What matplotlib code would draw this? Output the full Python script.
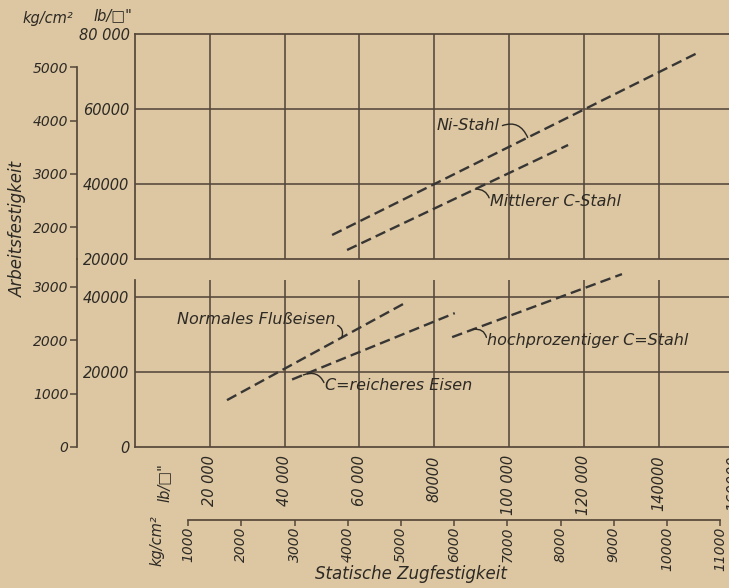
import matplotlib
matplotlib.use("Agg")
import matplotlib.pyplot as plt
import numpy as np

# Fatigue strength (Arbeitsfestigkeit) against static tensile strength,
# both in lb per square inch; kg/cm² scales are derived by conversion.
ni_x = [52700, 150300]
ni_y = [26400, 74900]
mittel_x = [56700, 115800]
mittel_y = [22400, 50400]
fluss_x = [24600, 72200]
fluss_y = [12500, 38400]
creich_x = [42000, 85500]
creich_y = [18000, 35700]
hoch_x = [84800, 130200]
hoch_y = [29300, 46100]

lb_xticks = [20000, 40000, 60000, 80000, 100000, 120000, 140000, 160000]
lb_xlabels = ["20 000", "40 000", "60 000", "80000", "100 000", "120 000", "140000", "160000"]
kg_xticks = [1000, 2000, 3000, 4000, 5000, 6000, 7000, 8000, 9000, 10000, 11000]
upper_lb_ticks = [20000, 40000, 60000, 80000]
upper_lb_labels = ["20000", "40000", "60000", "80 000"]
lower_lb_ticks = [0, 20000, 40000]
lower_lb_labels = ["0", "20000", "40000"]
upper_kg_ticks = [2000, 3000, 4000, 5000]
lower_kg_ticks = [0, 1000, 2000, 3000]

KG_TO_LB = 14.223

BG = "#dcc7a2"
INK = "#2d2924"
GRID = "#54463a"
LINE = "#383634"

plt.rcParams["font.family"] = ["DejaVu Sans"]
plt.rcParams["font.style"] = "italic"
plt.rcParams["text.color"] = INK
plt.rcParams["xtick.color"] = INK
plt.rcParams["ytick.color"] = INK
plt.rcParams["axes.edgecolor"] = GRID

W, H = 729, 588
fig = plt.figure(figsize=(W / 100, H / 100), dpi=100, facecolor=BG)


def fx(px):
    return px / W


def fy(py):
    return 1 - py / H


LEFT, RIGHT = 135, 745
XPX = 74.8   # pixels per 20000 lb horizontally
YPX = 75.0   # pixels per 20000 lb vertically
xmax = (RIGHT - LEFT) / XPX * 20000
lo_top = (447 - 259) / YPX * 20000

ax_up = fig.add_axes([fx(LEFT), fy(259), (RIGHT - LEFT) / W, (259 - 34) / H])
ax_lo = fig.add_axes([fx(LEFT), fy(447), (RIGHT - LEFT) / W, (447 - 259) / H])
for ax in (ax_up, ax_lo):
    ax.set_facecolor("none")
    ax.set_xlim(0, xmax)
    for s in ax.spines.values():
        s.set_linewidth(1.25)
        s.set_color(GRID)
ax_up.set_ylim(20000, 80000)
ax_lo.set_ylim(0, lo_top)

grid_x = lb_xticks
# upper panel grid
ax_up.vlines(grid_x, 20000, 80000, color=GRID, lw=1.15)
ax_up.hlines([40000, 60000], 0, xmax, color=GRID, lw=1.15)
ax_up.spines["right"].set_visible(False)
ax_up.set_xticks([])
ax_up.set_yticks(upper_lb_ticks, labels=upper_lb_labels)
ax_up.tick_params(axis="y", length=0, pad=4, labelsize=10.5)

# lower panel grid
lo_grid_top = 44500
ax_lo.vlines(grid_x, 0, lo_grid_top, color=GRID, lw=1.15)
ax_lo.hlines([20000, 40000], 0, xmax, color=GRID, lw=1.15)
ax_lo.spines["right"].set_visible(False)
ax_lo.spines["top"].set_visible(False)
ax_lo.spines["left"].set_bounds(0, lo_grid_top)
ax_lo.set_yticks(lower_lb_ticks, labels=lower_lb_labels)
ax_lo.tick_params(axis="y", length=0, pad=4, labelsize=10.5)
ax_lo.set_xticks(lb_xticks, labels=lb_xlabels)
ax_lo.tick_params(axis="x", length=0, pad=6, labelsize=10.5, labelrotation=90)

lb2kg = lambda v: np.asarray(v) / KG_TO_LB
kg2lb = lambda v: np.asarray(v) * KG_TO_LB

# kg/cm² scales
kg_loc = -(LEFT - 77) / (RIGHT - LEFT)
sec_up = ax_up.secondary_yaxis(kg_loc, functions=(lb2kg, kg2lb))
sec_up.set_yticks(upper_kg_ticks)
sec_up.spines["left"].set_bounds(20000 / KG_TO_LB, 5000)
sec_lo = ax_lo.secondary_yaxis(kg_loc, functions=(lb2kg, kg2lb))
sec_lo.set_yticks(lower_kg_ticks)
sec_lo.spines["left"].set_bounds(0, lo_top / KG_TO_LB)
for sec in (sec_up, sec_lo):
    sec.spines["left"].set_linewidth(1.25)
    sec.spines["left"].set_color(GRID)
    sec.tick_params(axis="y", length=5, width=1.1, pad=1, labelsize=10, color=GRID)

sec_x = ax_lo.secondary_xaxis(-(520 - 447) / (447 - 259), functions=(lb2kg, kg2lb))
sec_x.set_xticks(kg_xticks)
sec_x.spines["bottom"].set_bounds(1000, 11000)
sec_x.spines["bottom"].set_linewidth(1.25)
sec_x.spines["bottom"].set_color(GRID)
sec_x.tick_params(axis="x", length=4, width=1.1, pad=1, labelsize=10,
                  labelrotation=90, color=GRID)

# strength curves
style = dict(color=LINE, lw=1.7, dashes=(4.5, 2.2), solid_capstyle="butt")
ax_up.plot(ni_x, ni_y, **style)
ax_up.plot(mittel_x, mittel_y, **style)
ax_lo.plot(fluss_x, fluss_y, clip_on=False, **style)
ax_lo.plot(creich_x, creich_y, clip_on=False, **style)
ax_lo.plot(hoch_x, hoch_y, clip_on=False, **style)


def label(ax, text, xs, ys, at_x, pos, ha, rad, relpos):
    ax.annotate(text, xy=(at_x, np.interp(at_x, xs, ys)), xytext=pos,
                ha=ha, va="center", fontsize=11.5, color=INK,
                arrowprops=dict(arrowstyle="-", color=INK, lw=1.0,
                                connectionstyle=f"arc3,rad={rad}",
                                relpos=relpos, patchA=None,
                                shrinkA=2, shrinkB=0))


label(ax_up, "Ni-Stahl", ni_x, ni_y, 105000, (80700, 55700), "left", -0.5, (1.0, 0.4))
label(ax_up, "Mittlerer C-Stahl", mittel_x, mittel_y, 91000, (94900, 35200), "left", 0.4, (0.0, 0.6))
label(ax_lo, "Normales Flußeisen", fluss_x, fluss_y, 55300, (53500, 33900), "right", -0.5, (1.0, 0.2))
label(ax_lo, "C=reicheres Eisen", creich_x, creich_y, 45000, (50800, 16500), "left", 0.5, (0.0, 0.5))
label(ax_lo, "hochprozentiger C=Stahl", hoch_x, hoch_y, 90400, (94100, 28500), "left", 0.5, (0.0, 0.5))

# axis titles and units
fig.text(fx(18), fy(229), "Arbeitsfestigkeit", rotation=90, ha="center", va="center", fontsize=12)
fig.text(fx(411), fy(574), "Statische Zugfestigkeit", ha="center", va="center", fontsize=12)
fig.text(fx(48), fy(19), "kg/cm²", ha="center", va="center", fontsize=10.5)
fig.text(fx(113), fy(16), "lb/□\"", ha="center", va="center", fontsize=10.5)
fig.text(fx(164), fy(483), "lb/□\"", rotation=90, ha="center", va="center", fontsize=10.5)
fig.text(fx(157), fy(541), "kg/cm²", rotation=90, ha="center", va="center", fontsize=10.5)

fig.savefig("out.png", dpi=100, facecolor=BG)
